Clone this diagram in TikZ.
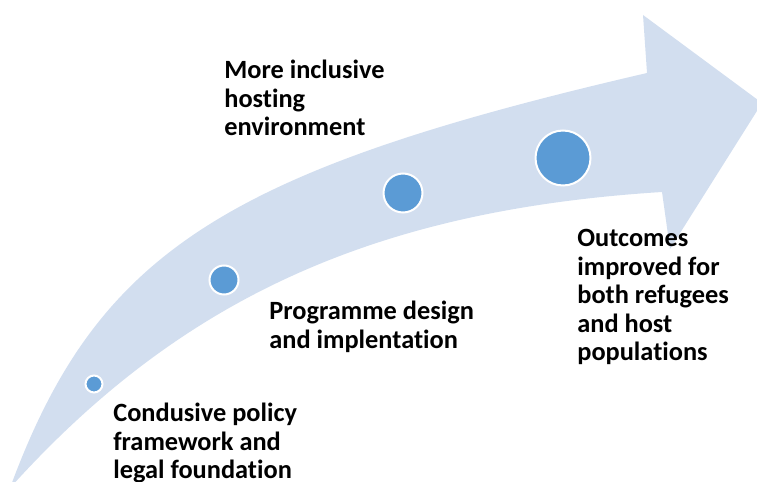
\documentclass[tikz,border=0pt]{standalone}
\usepackage{fontspec}
\setmainfont{Carlito}[Ligatures=NoCommon]
\usetikzlibrary{positioning}
\definecolor{bandblue}{RGB}{210,222,239}
\definecolor{dotblue}{RGB}{91,155,213}
\tikzset{
      stage/.style={font=\bfseries\fontsize{15}{16.2}\selectfont,align=left,anchor=north west,inner sep=0pt},
      dot/.style={circle,fill=dotblue,draw=white,line width=0.04cm,inner sep=0pt}
    }

\begin{document}
\begin{tikzpicture}[x=0.02cm,y=-0.02cm]
\useasboundingbox (0,0) rectangle (757,482);
\clip (0,0) rectangle (757,482);
% curved band with its head
\fill[bandblue] (10,488) .. controls (97,252) and (224,171) .. (647,73)
  -- (643,15) -- (762,103) -- (670,249) -- (662,192)
  .. controls (377,210) and (182,297) .. (10,488) -- cycle;
\foreach \x/\y/\d [count=\i] in {
  94/384/17,
  224/280/29,
  403/193/39,
  563/158/55
}
\node[dot,minimum size=\d*0.02cm] (dot\i) at (\x,\y) {};
\node[stage] (policy) at (113,403) {Condusive policy\\framework and\\legal foundation};
\node[stage] (design) at (269,301) {Programme design\\and implentation};
\node[stage] (hosting) at (224,60) {More inclusive\\hosting\\environment};
\node[stage] (outcomes) at (577,229) {Outcomes\\improved for\\both refugees\\and host\\populations};
\end{tikzpicture}
\end{document}
